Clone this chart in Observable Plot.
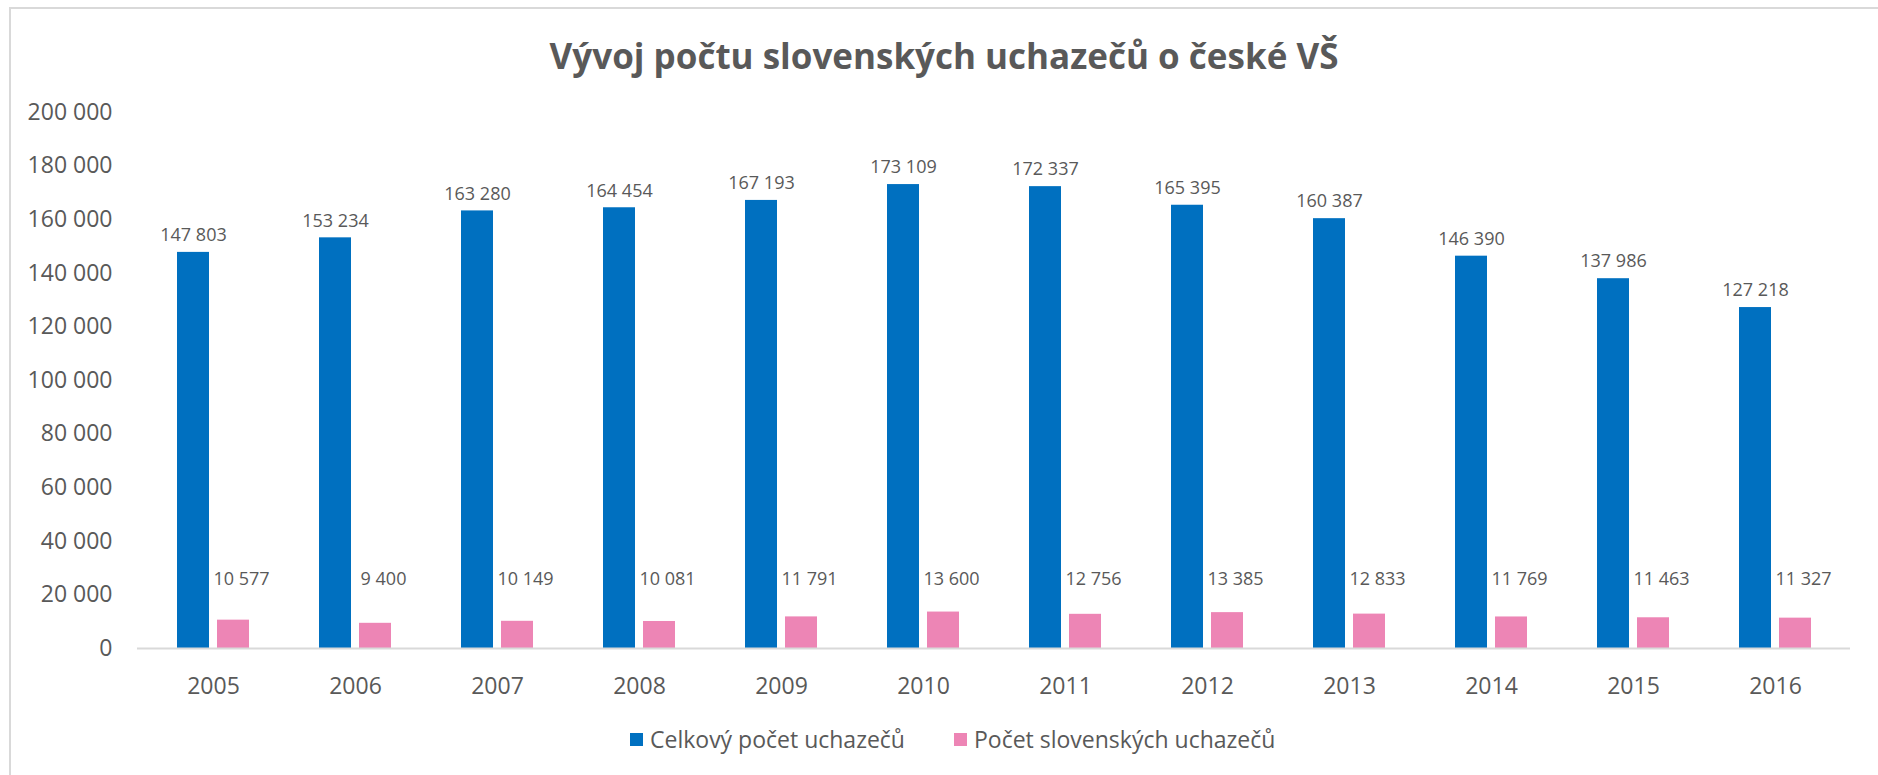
<!DOCTYPE html>
<html>
<head>
<meta charset="utf-8">
<script src="https://cdn.jsdelivr.net/npm/d3@7"></script>
<script src="https://cdn.jsdelivr.net/npm/@observablehq/plot@0.6"></script>
<style>
  html, body { margin: 0; padding: 0; background: #fff; width: 1878px; height: 775px; overflow: hidden; }
  #frame { position: absolute; left: 9px; top: 7px; width: 1920px; height: 820px; border: 2px solid #d9d9d9; box-sizing: border-box; }
  #chart { position: absolute; left: 0; top: 0; width: 1878px; }
  #title { height: 90px; box-sizing: border-box; padding: 36px 0 0 10px; line-height: 40px; text-align: center;
           font-family: "Open Sans", sans-serif; font-weight: bold; font-size: 35px; color: #595959; white-space: nowrap; }
  #plot svg { display: block; }
  #legend { position: absolute; left: 630px; top: 723px; display: flex; align-items: center; height: 32px;
            font-family: "Open Sans", sans-serif; font-size: 23px; color: #595959; white-space: nowrap; }
  .item { display: flex; align-items: center; }
  .swatch { width: 13px; height: 13px; margin-right: 7px; }
</style>
</head>
<body>
<div id="frame"></div>
<div id="chart">
  <div id="title"></div>
  <div id="plot"></div>
  <div id="legend"></div>
</div>
<script>
const chartTitle = "Vývoj počtu slovenských uchazečů o české VŠ";
const years = ["2005", "2006", "2007", "2008", "2009", "2010", "2011", "2012", "2013", "2014", "2015", "2016"];
const totalApplicants = [147803, 153234, 163280, 164454, 167193, 173109, 172337, 165395, 160387, 146390, 137986, 127218];
const slovakApplicants = [10577, 9400, 10149, 10081, 11791, 13600, 12756, 13385, 12833, 11769, 11463, 11327];
const seriesNames = ["Celkový počet uchazečů", "Počet slovenských uchazečů"];
const seriesColors = ["#0070c0", "#ed85b5"];
const yTicks = [0, 20000, 40000, 60000, 80000, 100000, 120000, 140000, 160000, 180000, 200000];

const locale = d3.formatLocale({decimal: ",", thousands: " ", grouping: [3], currency: ["", ""]});
const fmt = locale.format(",");

const data = years.map((year, i) => ({year, total: totalApplicants[i], slovak: slovakApplicants[i]}));

document.getElementById("title").textContent = chartTitle;

const chart = Plot.plot({
  width: 1878,
  height: 618,
  marginTop: 22,
  marginBottom: 60,
  marginLeft: 137,
  marginRight: 28,
  style: {fontFamily: '"Open Sans", sans-serif', fontSize: "23px", color: "#595959", background: "transparent", overflow: "visible"},
  x: {domain: years, paddingInner: 0.776, paddingOuter: 0.388, label: null, tickSize: 0, tickPadding: 29},
  y: {domain: [0, 200000], ticks: yTicks, tickFormat: fmt, tickSize: 0, tickPadding: 25, label: null},
  marks: [
    Plot.barY(data, {x: "year", y: "total", fill: seriesColors[0], dx: -20}),
    Plot.barY(data, {x: "year", y: "slovak", fill: seriesColors[1], dx: 20}),
    Plot.ruleY([0], {stroke: "#d9d9d9", strokeWidth: 2}),
    Plot.text(data, {x: "year", y: "total", text: d => fmt(d.total), dx: -20, dy: -17, fontSize: 18, fill: "#595959"}),
    Plot.text(data, {x: "year", text: d => fmt(d.slovak), frameAnchor: "bottom", dx: 28, dy: -64, fontSize: 18, fill: "#595959"})
  ]
});
document.getElementById("plot").appendChild(chart);

const legend = document.getElementById("legend");
seriesNames.forEach((name, i) => {
  const item = document.createElement("div");
  item.className = "item";
  if (i > 0) item.style.marginLeft = "49px";
  const sw = document.createElement("div");
  sw.className = "swatch";
  sw.style.background = seriesColors[i];
  const label = document.createElement("span");
  label.textContent = name;
  item.appendChild(sw);
  item.appendChild(label);
  legend.appendChild(item);
});
</script>
</body>
</html>
